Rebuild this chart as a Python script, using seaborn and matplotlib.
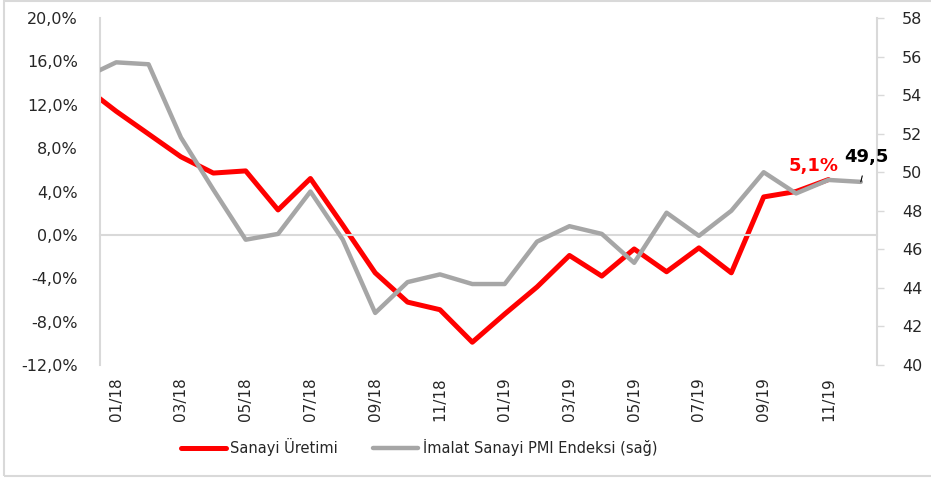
import matplotlib
matplotlib.use('Agg')
import matplotlib.pyplot as plt
import matplotlib.transforms as mtransforms
from matplotlib.patches import Rectangle
import numpy as np
import pandas as pd
import seaborn as sns

# 12/17 is only there so the lines run into the left edge (it sits outside the x range)
months = ['12/17',
          '01/18', '02/18', '03/18', '04/18', '05/18', '06/18',
          '07/18', '08/18', '09/18', '10/18', '11/18', '12/18',
          '01/19', '02/19', '03/19', '04/19', '05/19', '06/19',
          '07/19', '08/19', '09/19', '10/19', '11/19', '12/19']

# Sanayi Uretimi, yillik % degisim
sanayi_uretimi = [13.7,
                  11.4, 9.3, 7.2, 5.7, 5.9, 2.3,
                  5.2, 0.9, -3.5, -6.2, -6.9, -9.9,
                  -7.3, -4.8, -1.9, -3.8, -1.3, -3.4,
                  -1.2, -3.5, 3.5, 4.0, 5.1, np.nan]

# Imalat Sanayi PMI
pmi = [54.9,
       55.7, 55.6, 51.8, 49.1, 46.5, 46.8,
       49.0, 46.5, 42.7, 44.3, 44.7, 44.2,
       44.2, 46.4, 47.2, 46.8, 45.3, 47.9,
       46.7, 48.0, 50.0, 48.9, 49.6, 49.5]

tick_labels = months[1::2]
series_names = ['Sanayi Üretimi', 'İmalat Sanayi PMI Endeksi (sağ)']

sns.set_style('white')
plt.rcParams['font.family'] = ['DejaVu Sans']

txt = '#262626'
axis_grey = '#d9d9d9'

df = pd.DataFrame({'ay': np.arange(len(months)) - 1,
                   'sanayi': sanayi_uretimi,
                   'pmi': pmi})

fig = plt.figure(figsize=(9.31, 4.80), dpi=100)
ax = fig.add_axes([100 / 931, 1 - 365 / 480, 777 / 931, 347 / 480])
ax2 = ax.twinx()

sns.lineplot(data=df, x='ay', y='sanayi', ax=ax, color='#ff0000', lw=3.6, legend=False)
sns.lineplot(data=df, x='ay', y='pmi', ax=ax2, color='#a6a6a6', lw=3.2, legend=False)

n = len(months) - 1
ax.set_xlim(-0.5, n - 0.5)
ax.set_ylim(-12, 20)
ax2.set_ylim(40, 58)

ax.set_xlabel('')
ax.set_ylabel('')
ax2.set_ylabel('')

# left axis
yt = np.arange(-12, 21, 4)
ax.set_yticks(yt)
ax.set_yticklabels([f'{v:.1f}%'.replace('.', ',') for v in yt])
ax.tick_params(axis='y', length=0, pad=16, labelsize=11.5, labelcolor=txt)

# right axis
yt2 = np.arange(40, 59, 2)
ax2.set_yticks(yt2)
ax2.set_yticklabels([str(v) for v in yt2])
ax2.tick_params(axis='y', length=5, width=1, color=axis_grey, pad=13,
                labelsize=11.5, labelcolor=txt)

# category axis sits on the 0 line, tick marks between every two months
ax.spines['bottom'].set_position(('data', 0))
ax.set_xticks(np.arange(-0.5, n, 2))
ax.set_xticklabels([])
ax.tick_params(axis='x', direction='out', length=5, width=1, color=axis_grey)

for a in (ax, ax2):
    for s in a.spines.values():
        s.set_visible(False)
ax.spines['bottom'].set_visible(True)
ax.spines['left'].set_visible(True)
ax2.spines['right'].set_visible(True)
for s in (ax.spines['bottom'], ax.spines['left'], ax2.spines['right']):
    s.set_color(axis_grey)
    s.set_linewidth(1.5)

trans = mtransforms.blended_transform_factory(ax.transData, ax.transAxes)
for i, lab in zip(range(0, n, 2), tick_labels):
    ax.text(i, -0.035, lab, transform=trans, rotation=90, ha='center', va='top',
            fontsize=11, color=txt)

# data labels
ax.annotate('5,1%', xy=(n - 2, sanayi_uretimi[-2]), xytext=(-15, 14),
            textcoords='offset pixels', ha='center', va='center',
            color='#ff0000', fontweight='bold', fontsize=13)
ax2.annotate('49,5', xy=(n - 1, pmi[-1]), xytext=(6, 25),
             textcoords='offset pixels', ha='center', va='center',
             color='black', fontweight='bold', fontsize=13,
             arrowprops=dict(arrowstyle='-', color='black', lw=0.8,
                             shrinkA=5, shrinkB=0))

handles = [ax.lines[0], ax2.lines[0]]
fig.legend(handles, series_names, loc='center',
           bbox_to_anchor=(419 / 931, 1 - 447 / 480), ncol=2, frameon=False,
           fontsize=10.5, handlelength=3.1, handletextpad=0.3, columnspacing=2.4,
           labelcolor=txt)

# light frame on the left, top and bottom only (right edge falls off the canvas)
fig.patches.append(Rectangle((4 / 931, 4 / 480), 1.1, 475 / 480,
                             transform=fig.transFigure, fill=False,
                             edgecolor=axis_grey, lw=1.5))

fig.savefig('out.png', dpi=100)
